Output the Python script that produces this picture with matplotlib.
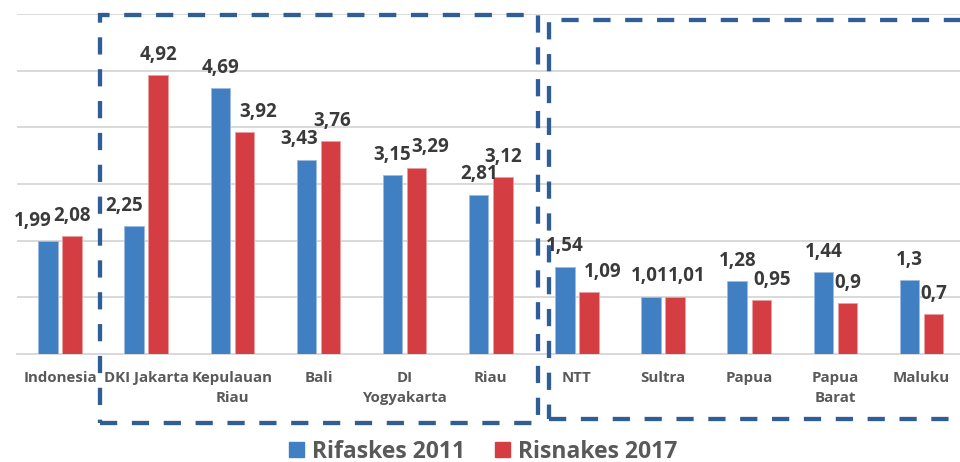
import matplotlib
matplotlib.use("Agg")
import matplotlib.pyplot as plt
from matplotlib.patches import Rectangle, Patch

# Data
regions = ["Indonesia", "DKI Jakarta", "Kepulauan\nRiau", "Bali", "DI\nYogyakarta",
           "Riau", "NTT", "Sultra", "Papua", "Papua\nBarat", "Maluku"]
rifaskes_2011 = [1.99, 2.25, 4.69, 3.43, 3.15, 2.81, 1.54, 1.01, 1.28, 1.44, 1.3]
risnakes_2017 = [2.08, 4.92, 3.92, 3.76, 3.29, 3.12, 1.09, 1.01, 0.95, 0.9, 0.7]
series_names = ["Rifaskes 2011", "Risnakes 2017"]

# Horizontal nudges (points) for value labels so neighbours don't collide
nudge_2011 = [-11, -7, 0, -5, 0, 0, 0, -1, 0, 0, 0]
nudge_2017 = [0, 0, 10, 1, 10, 0, 10, 8, 8, 0, 0]

BLUE = "#4080C2"
RED = "#D43E42"
BOX = "#2F5E97"
GRID = "#D9D9D9"
LABEL = "#3A3A3A"
TICK = "#595959"
FONT = ["Open Sans", "DejaVu Sans"]

plt.rcParams["font.family"] = FONT

fig = plt.figure(figsize=(9.6, 4.62), dpi=100)
ax = fig.add_axes([0.0176, 0.2338, 0.9872, 0.736])

x = list(range(len(regions)))
w = 0.225
off = 0.14
b1 = ax.bar([i - off for i in x], rifaskes_2011, width=w, color=BLUE,
            edgecolor="#9DBBE0", linewidth=0.6, zorder=3)
b2 = ax.bar([i + off for i in x], risnakes_2017, width=w, color=RED,
            edgecolor="#E9A0A2", linewidth=0.6, zorder=3)

def fmt(v):
    return f"{v:g}".replace(".", ",")

for bars, vals, nudges in ((b1, rifaskes_2011, nudge_2011), (b2, risnakes_2017, nudge_2017)):
    for r, v, dx in zip(bars, vals, nudges):
        ax.annotate(fmt(v), (r.get_x() + r.get_width() / 2, v),
                    xytext=(dx, 11), textcoords="offset points",
                    ha="center", va="baseline", fontsize=13.5,
                    fontweight="bold", color=LABEL, zorder=4)

ax.set_xlim(-0.5, len(regions) - 0.5)
ax.set_ylim(0, 6)
ax.set_yticks(range(0, 7))
ax.yaxis.grid(True, color=GRID, linewidth=1.4, zorder=0)
ax.set_axisbelow(True)
ax.tick_params(axis="y", left=False, labelleft=False)
ax.set_xticks(x)
ax.set_xticklabels(regions, fontsize=10.8, fontweight="bold", color=TICK,
                   linespacing=1.55)
ax.tick_params(axis="x", length=0, pad=12)
for s in ("top", "right", "left"):
    ax.spines[s].set_visible(False)
ax.spines["bottom"].set_color(GRID)
ax.spines["bottom"].set_linewidth(1.4)

# Dashed frames grouping the high and low provinces
frames = [(0.465, -1.22, 5.55, 5.98), (5.68, -1.15, 10.49, 5.89)]
for x0, y0, x1, y1 in frames:
    ax.add_patch(Rectangle((x0, y0), x1 - x0, y1 - y0, fill=False,
                           edgecolor=BOX, linewidth=3.1,
                           linestyle=(0, (4, 3.4)), clip_on=False, zorder=5))

handles = [Patch(color=BLUE, label=series_names[0]),
           Patch(color=RED, label=series_names[1])]
leg = fig.legend(handles=handles, loc="center", bbox_to_anchor=(0.503, 0.022),
                 ncol=2, frameon=False, handlelength=0.65,
                 handleheight=0.65, handletextpad=0.35, columnspacing=1.3,
                 prop={"family": FONT, "weight": "bold", "size": 16.5})
for t in leg.get_texts():
    t.set_color(TICK)

fig.savefig("out.png", dpi=100)
